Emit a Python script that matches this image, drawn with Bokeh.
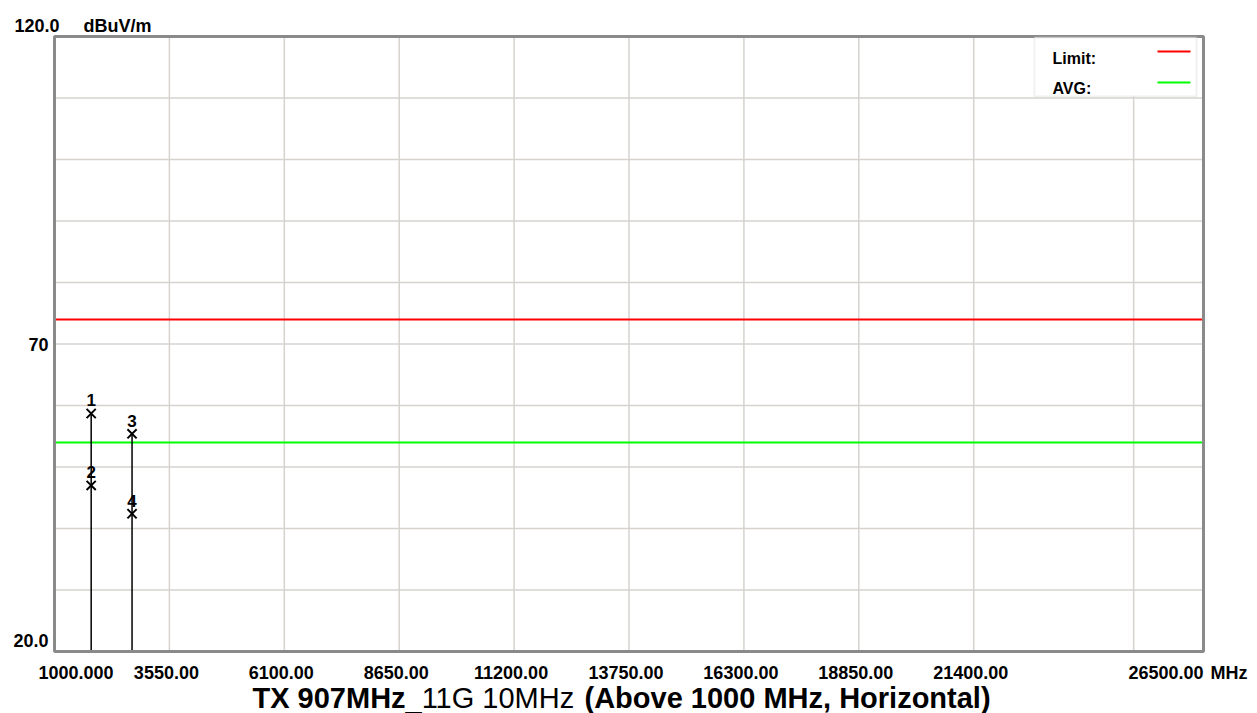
from bokeh.plotting import figure
from bokeh.models import Range1d, BoxAnnotation, ColumnDataSource, Label
from bokeh.embed import file_html
from bokeh.resources import INLINE
from bokeh.core.properties import value

# ---- data ----
x_start, x_end = 1000, 26500
y_start, y_end = 20, 120
x_grid_ticks = [3550, 6100, 8650, 11200, 13750, 16300, 18850, 21400, 24950]
x_label_ticks = [3550, 6100, 8650, 11200, 13750, 16300, 18850, 21400]
x_label_texts = ["3550.00", "6100.00", "8650.00", "11200.00", "13750.00",
                 "16300.00", "18850.00", "21400.00"]
x_first_label = "1000.000"
x_last_label = "26500.00"
x_unit = "MHz"
y_grid_ticks = [30, 40, 50, 60, 70, 80, 90, 100, 110]
y_tick_values = [120, 70, 20]
y_tick_texts = ["120.0", "70", "20.0"]
y_unit = "dBuV/m"
limit_level = 74
avg_level = 54
marker_freq = [1814, 1814, 2721, 2721]
marker_level = [58.7, 47.0, 55.4, 42.4]
marker_id = ["1", "2", "3", "4"]
legend_names = ["Limit:", "AVG:"]
title_parts = ["TX 907MHz", "_11G 10MHz", "(Above 1000 MHz, Horizontal)"]

# ---- layout (pixels) ----
W, H = 1250, 713
PL, PR, PT, PB = 54, 1203, 36, 651          # plot box in canvas pixels
kx = (PR - PL) / (x_end - x_start)
ky = (PB - PT) / (y_end - y_start)
x_lo = x_start - PL / kx
x_hi = x_end + (W - PR) / kx
y_lo = y_start - (H - PB) / ky
y_hi = y_end + PT / ky

FONT_NAME = "Liberation Sans"
FONT = value(FONT_NAME)
GRID = "#d6d3ce"

p = figure(width=W, height=H, output_backend="svg", toolbar_location=None,
           x_range=Range1d(x_lo, x_hi), y_range=Range1d(y_lo, y_hi),
           min_border=0, min_border_left=0, min_border_right=0,
           min_border_top=0, min_border_bottom=0)
p.xaxis.visible = False
p.yaxis.visible = False
p.xgrid.visible = False
p.ygrid.visible = False
p.outline_line_color = None
p.background_fill_color = "white"
p.border_fill_color = "white"

# grid
p.segment(x0=x_grid_ticks, y0=[y_start] * len(x_grid_ticks),
          x1=x_grid_ticks, y1=[y_end] * len(x_grid_ticks),
          line_color=GRID, line_width=1.5)
p.segment(x0=[x_start] * len(y_grid_ticks), y0=y_grid_ticks,
          x1=[x_end] * len(y_grid_ticks), y1=y_grid_ticks,
          line_color=GRID, line_width=1.5)

# limit lines
p.segment(x0=[x_start], y0=[limit_level], x1=[x_end], y1=[limit_level],
          line_color="#ff0000", line_width=2)
p.segment(x0=[x_start], y0=[avg_level], x1=[x_end], y1=[avg_level],
          line_color="#00ff00", line_width=2)

# marker stems
stems = {}
for f, l in zip(marker_freq, marker_level):
    stems[f] = max(stems.get(f, y_start), l)
stem_src = ColumnDataSource(dict(x=list(stems.keys()), top=list(stems.values()),
                                 bottom=[y_start] * len(stems)))
p.segment(x0="x", y0="bottom", x1="x", y1="top", source=stem_src,
          line_color="black", line_width=1.5)

# frame
p.quad(left=[x_start], right=[x_end], bottom=[y_start], top=[y_end],
       fill_alpha=0, line_color="#8a8a8a", line_width=3)

# markers
msrc = ColumnDataSource(dict(x=marker_freq, y=marker_level, t=marker_id))
p.scatter(x="x", y="y", source=msrc, marker="x", size=13, line_color="black", line_width=2)
p.text(x="x", y="y", text="t", source=msrc, y_offset=-7, text_align="center",
       text_baseline="bottom", text_font=FONT, text_font_style="bold",
       text_font_size="17px", text_color="black")

def txt(xs, ys, texts, **kw):
    style = dict(text_font=FONT, text_font_style="bold", text_font_size="18px",
                 text_color="black", text_baseline="alphabetic")
    style.update(kw)
    p.text(x=xs, y=ys, text=texts, **style)

# x tick labels
txt(x_label_ticks, [y_start] * len(x_label_ticks), x_label_texts,
    x_offset=-3, y_offset=21, text_align="center")
txt([x_start], [y_start], [x_first_label], x_offset=59, y_offset=21, text_align="right")
txt([x_end], [y_start], [x_last_label], x_offset=0, y_offset=21, text_align="right")
txt([x_end], [y_start], [x_unit], x_offset=7, y_offset=21, text_align="left")

# y tick labels
y_label_offsets = {"120.0": (5, -11), "70": (-6, 0), "20.0": (-6, -11)}
for v, t in zip(y_tick_values, y_tick_texts):
    ox, oy = y_label_offsets[t]
    txt([x_start], [v], [t], x_offset=ox, y_offset=oy, text_align="right")
txt([x_start], [y_end], [y_unit], x_offset=29, y_offset=-11, text_align="left")

# legend (label left, sample line right), screen units from canvas bottom-left
p.add_layout(BoxAnnotation(left=1034, right=1196, top=H - 37, bottom=H - 96,
                           left_units="screen", right_units="screen",
                           top_units="screen", bottom_units="screen",
                           fill_color="white", fill_alpha=1.0,
                           line_color="#d0d0d0", line_width=2))
legend_colors = ["#ff0000", "#00ff00"]
legend_line_y = [51, 82]
legend_text_y = [58, 88]
for name, col, ly, ty in zip(legend_names, legend_colors, legend_line_y, legend_text_y):
    p.add_layout(BoxAnnotation(left=1157, right=1190, top=H - ly + 1, bottom=H - ly - 1,
                               left_units="screen", right_units="screen",
                               top_units="screen", bottom_units="screen",
                               fill_color=col, fill_alpha=1.0, line_color=None))
    p.add_layout(Label(x=1052, y=H - ty, x_units="screen", y_units="screen", text=name,
                       text_font=FONT_NAME, text_font_style="bold", text_font_size="16px",
                       text_color="black", text_align="left", text_baseline="alphabetic"))

# title (mixed bold / normal)
title_offsets = [198, 351, 530]
title_style = ["bold", "normal", "bold"]
for t, ox, st in zip(title_parts, title_offsets, title_style):
    txt([x_start], [y_start], [t], x_offset=ox, y_offset=46, text_align="left",
        text_font_size="29px", text_font_style=st)

open("out.html", "w").write(file_html(p, INLINE))
